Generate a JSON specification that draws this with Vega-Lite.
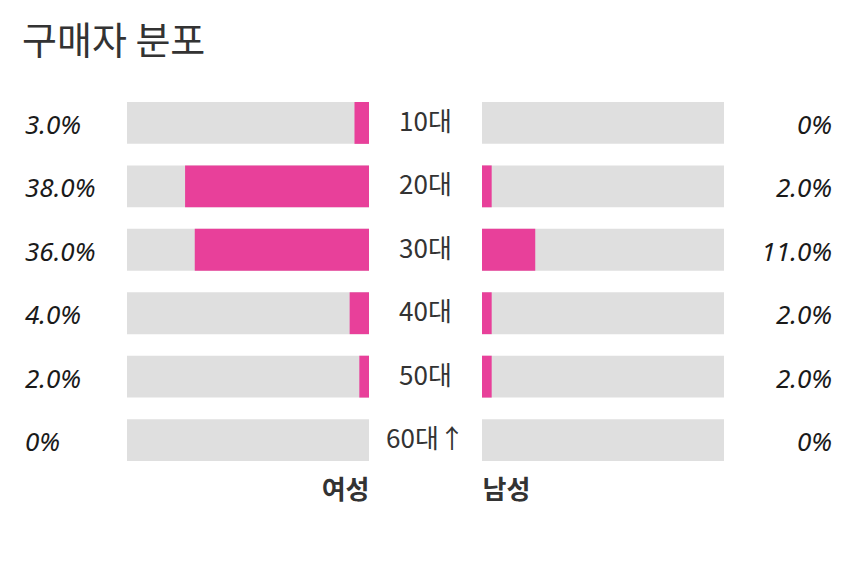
{
  "$schema": "https://vega.github.io/schema/vega-lite/v6.json",
  "background": "white",
  "padding": {"left": 22, "top": 24, "right": 18, "bottom": 12},
  "title": {"text": "구매자 분포", "anchor": "start", "font": "Noto Sans CJK KR", "fontSize": 38, "fontWeight": "normal", "color": "#333333", "offset": 40},
  "data": {"values": [
    {"age": "10대", "female": 3, "male": 0, "femaleLabel": "3.0%", "maleLabel": "0%"},
    {"age": "20대", "female": 38, "male": 2, "femaleLabel": "38.0%", "maleLabel": "2.0%"},
    {"age": "30대", "female": 36, "male": 11, "femaleLabel": "36.0%", "maleLabel": "11.0%"},
    {"age": "40대", "female": 4, "male": 2, "femaleLabel": "4.0%", "maleLabel": "2.0%"},
    {"age": "50대", "female": 2, "male": 2, "femaleLabel": "2.0%", "maleLabel": "2.0%"},
    {"age": "60대↑", "female": 0, "male": 0, "femaleLabel": "0%", "maleLabel": "0%"}
  ]},
  "spacing": 0,
  "hconcat": [
    {
      "width": 105, "height": 359,
      "mark": {"type": "text", "align": "left", "baseline": "middle", "dx": 3, "dy": 3, "font": "Noto Sans", "fontStyle": "italic", "fontSize": 26, "fontWeight": "normal", "color": "#1a1a1a"},
      "encoding": {
        "x": {"value": 0},
        "y": {"field": "age", "type": "nominal", "sort": null, "scale": {"type": "band", "paddingInner": 0.34, "paddingOuter": 0}, "axis": null},
        "text": {"field": "femaleLabel"}
      }
    },
    {
      "width": 242, "height": 359,
      "encoding": {
        "y": {"field": "age", "type": "nominal", "sort": null, "scale": {"type": "band", "paddingInner": 0.34, "paddingOuter": 0}, "axis": null}
      },
      "layer": [
        {"mark": {"type": "bar", "color": "#dfdfdf"},
         "encoding": {"x": {"datum": 50, "type": "quantitative", "scale": {"domain": [0, 50], "reverse": true}, "axis": {"title": "여성", "labels": false, "ticks": false, "domain": false, "grid": false, "titleAnchor": "start", "titleAlign": "right", "titleFont": "Noto Sans CJK KR", "titleFontSize": 26, "titleFontWeight": "bold", "titleColor": "#333333", "titlePadding": 16}}}},
        {"mark": {"type": "bar", "color": "#e8409a"},
         "encoding": {"x": {"field": "female", "type": "quantitative"}}}
      ]
    },
    {
      "width": 242, "height": 359,
      "encoding": {
        "y": {"field": "age", "type": "nominal", "sort": null, "scale": {"type": "band", "paddingInner": 0.34, "paddingOuter": 0},
          "axis": {"title": null, "ticks": false, "domain": false, "grid": false, "labelAlign": "center", "labelPadding": 57, "labelFont": "Noto Sans CJK KR", "labelFontSize": 26, "labelColor": "#333333", "minExtent": 113, "maxExtent": 113}}
      },
      "layer": [
        {"mark": {"type": "bar", "color": "#dfdfdf"},
         "encoding": {"x": {"datum": 50, "type": "quantitative", "scale": {"domain": [0, 50]}, "axis": {"title": "남성", "labels": false, "ticks": false, "domain": false, "grid": false, "titleAnchor": "start", "titleAlign": "left", "titleFont": "Noto Sans CJK KR", "titleFontSize": 26, "titleFontWeight": "bold", "titleColor": "#333333", "titlePadding": 16}}}},
        {"mark": {"type": "bar", "color": "#e8409a"},
         "encoding": {"x": {"field": "male", "type": "quantitative"}}}
      ]
    },
    {
      "width": 108, "height": 359,
      "mark": {"type": "text", "align": "right", "baseline": "middle", "dy": 3, "font": "Noto Sans", "fontStyle": "italic", "fontSize": 26, "fontWeight": "normal", "color": "#1a1a1a"},
      "encoding": {
        "x": {"value": "width"},
        "y": {"field": "age", "type": "nominal", "sort": null, "scale": {"type": "band", "paddingInner": 0.34, "paddingOuter": 0}, "axis": null},
        "text": {"field": "maleLabel"}
      }
    }
  ],
  "config": {"view": {"stroke": null}}
}
